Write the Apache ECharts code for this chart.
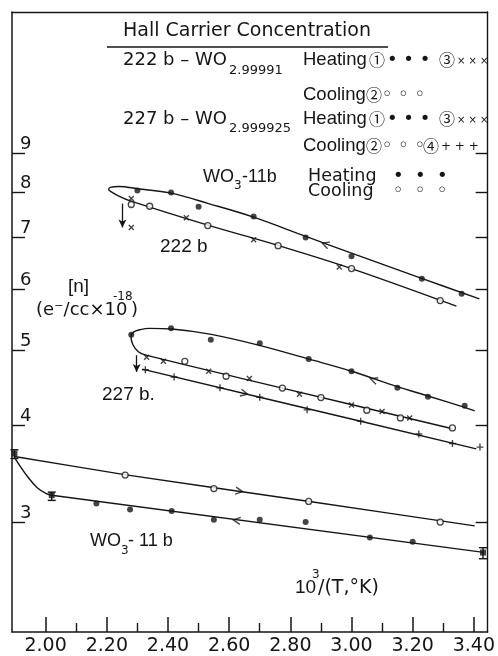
<!DOCTYPE html>
<html><head><meta charset="utf-8">
<script src="https://cdn.jsdelivr.net/npm/echarts@6/dist/echarts.min.js"></script>
<style>html,body{margin:0;padding:0;background:#fff}#c{width:498px;height:656px}</style>
</head><body><div id="c"></div>
<script>
// ---- tick labels ----
const xMajorTicks = [2.0, 2.2, 2.4, 2.6, 2.8, 3.0, 3.2, 3.4];
const xMinorTicks = [2.1, 2.3, 2.5, 2.7, 2.9, 3.1, 3.3];
const yTicks = [3, 4, 5, 6, 7, 8, 9];

// ---- 222b  (WO2.99991) ----
const s222Heat1 = [[2.30,8.05],[2.41,8.00],[2.50,7.67],[2.68,7.45],[2.85,7.00],[3.00,6.62],[3.23,6.19],[3.36,5.92]];
const s222Cool2 = [[2.28,7.72],[2.34,7.68],[2.53,7.25],[2.76,6.83],[3.00,6.38],[3.29,5.80]];
const s222Heat3 = [[2.28,7.86],[2.46,7.42],[2.68,6.95],[2.96,6.41],[2.28,7.21]];
const curve222 = [[3.343,5.705],[3.000,6.38],[2.762,6.83],[2.533,7.255],[2.274,7.81],
  [2.241,7.91],[2.216,8.01],[2.206,8.07],[2.212,8.125],[2.241,8.145],[2.300,8.09],
  [2.407,7.99],[2.533,7.74],[2.682,7.43],[2.851,7.02],[3.000,6.68],[3.227,6.20],[3.418,5.83]];

// ---- 227b  (WO2.999925) ----
const s227Heat1 = [[2.28,5.24],[2.41,5.34],[2.54,5.16],[2.70,5.11],[2.86,4.875],[3.00,4.70],[3.15,4.475],[3.25,4.355],[3.37,4.24]];
const s227Heat3 = [[2.33,4.90],[2.385,4.84],[2.533,4.70],[2.666,4.60],[2.83,4.39],[3.00,4.25],[3.10,4.17],[3.19,4.09]];
const s227Cool2 = [[2.455,4.84],[2.59,4.63],[2.774,4.47],[2.90,4.345],[3.05,4.185],[3.16,4.09],[3.33,3.97]];
const s227Cool4 = [[2.326,4.72],[2.42,4.62],[2.57,4.475],[2.70,4.35],[2.855,4.19],[3.03,4.05],[3.22,3.90],[3.33,3.79],[3.42,3.75]];
const curve227 = [[3.330,3.96],[2.774,4.47],[2.328,4.93],
  [2.303,4.98],[2.285,5.09],[2.279,5.21],[2.287,5.28],[2.310,5.32],[2.339,5.34],[2.412,5.33],
  [2.542,5.245],[2.699,5.076],[2.859,4.875],[3.000,4.70],[3.150,4.49],[3.250,4.366],[3.370,4.22],[3.403,4.177]];
const line227Cool4 = [[2.316,4.73],[2.70,4.35],[3.03,4.05],[3.408,3.73]];

// ---- WO3-11b ----
const wo3Heat = [[2.166,3.17],[2.276,3.115],[2.412,3.10],[2.55,3.02],[2.70,3.02],[2.85,3.00],[3.06,2.866],[3.20,2.83]];
const wo3Cool = [[2.26,3.45],[2.55,3.315],[2.86,3.19],[3.29,3.00]];
const wo3ErrPts = [[1.898,3.68,3.625,3.72],[2.02,3.25,3.20,3.28],[3.43,2.74,2.69,2.78]];
const lineWO3Cool = [[1.898,3.647],[2.263,3.453],[2.863,3.19],[3.403,2.966]];
const lineWO3HeatBend = [[1.898,3.636],[1.917,3.54],[1.940,3.438],[1.9725,3.323],[2.002,3.265],[2.020,3.25]];
const lineWO3HeatStraight = [[2.020,3.25],[3.432,2.741]];

// ---- direction arrows on lines ----
const arrowsOn = [
  {at:[2.915,6.86], dir:'L', curve:'c222'},
  {at:[3.073,4.58], dir:'L', curve:'c227'},
  {at:[2.649,4.40], dir:'R', curve:'l227'},
  {at:[2.6325,3.29], dir:'R', curve:'wc'},
  {at:[2.625,3.015], dir:'L', curve:'wh'}
];
const dropArrows = [ [[2.251,7.74],[2.251,7.21]], [[2.2975,4.93],[2.2975,4.69]] ];

const curves = {c222: curve222, c227: curve227, l227: line227Cool4, wc: lineWO3Cool, wh: lineWO3HeatStraight};

const ink = '#151515';
const FONT = "'DejaVu Sans', 'Noto Sans CJK JP', sans-serif";
const NARROW = "'Liberation Sans', 'DejaVu Sans', sans-serif";
const CIRC = "'Noto Sans CJK JP', 'DejaVu Sans', sans-serif";
const chart = echarts.init(document.getElementById('c'));

const CROSS = 'path://M0,0L10,10M10,0L0,10';
const PLUS = 'path://M5,0L5,10M0,5L10,5';
const LEFT = 'path://M10,0L0,5L10,10';
const RIGHT = 'path://M0,0L10,5L0,10';

function lineS(data, smooth) {
  return {type:'line', data, symbol:'none', smooth: smooth || false, silent:true,
    lineStyle:{color:ink, width:1.4}, z:2, animation:false};
}
function dots(data, size) {
  return {type:'scatter', data, symbol:'circle', symbolSize:size||6, itemStyle:{color:ink}, z:4, animation:false};
}
function rings(data) {
  return {type:'scatter', data, symbol:'circle', symbolSize:6, itemStyle:{color:'#fff', borderColor:ink, borderWidth:1.3}, z:4, animation:false};
}
function strokeSym(data, sym, size) {
  return {type:'scatter', data, symbol:sym, symbolSize:size, itemStyle:{color:'transparent', borderColor:ink, borderWidth:1.4}, z:4, animation:false};
}

function txt(x, y, text, size, family) {
  return {type:'text', x, y, silent:true, z:10,
    style:{text, fontSize:size||18, fontFamily:family||FONT, fill:ink, align:'left', verticalAlign:'middle'}};
}

const graphics = [
  txt(123, 31, 'Hall Carrier Concentration', 19),
  {type:'line', shape:{x1:107,y1:47,x2:388,y2:47}, style:{stroke:ink, lineWidth:1.3}, silent:true},
  // 222b row
  txt(123, 60, '222 b \u2013 WO', 18), txt(229, 71, '2.99991', 13),
  txt(303, 60, 'Heating', 18.5, NARROW), txt(369, 60, '\u2460', 16, CIRC), txt(387, 60, '\u2022 \u2022 \u2022', 18),
  txt(439, 60, '\u2462', 16, CIRC), txt(457, 61, '\u00d7 \u00d7 \u00d7', 10),
  txt(303, 95, 'Cooling', 18.5, NARROW), txt(366, 95, '\u2461', 16, CIRC), txt(382, 95, '\u25e6 \u25e6 \u25e6', 18),
  // 227b row
  txt(123, 119, '227 b \u2013 WO', 18), txt(229, 129, '2.999925', 13),
  txt(303, 119, 'Heating', 18.5, NARROW), txt(369, 119, '\u2460', 16, CIRC), txt(387, 119, '\u2022 \u2022 \u2022', 18),
  txt(439, 119, '\u2462', 16, CIRC), txt(457, 120, '\u00d7 \u00d7 \u00d7', 10),
  txt(303, 146, 'Cooling', 18.5, NARROW), txt(366, 146, '\u2461', 16, CIRC), txt(382, 146, '\u25e6 \u25e6 \u25e6', 18),
  txt(423, 146, '\u2463', 16, CIRC), txt(441, 147, '+ + +', 12),
  // WO3-11b row
  txt(203, 177, 'WO', 18, NARROW), txt(234, 186, '3', 12), txt(242, 177, '-11b', 18, NARROW),
  txt(308, 176, 'Heating', 17.5), txt(393, 176, '\u2022  \u2022  \u2022', 18),
  txt(308, 191, 'Cooling', 17.5), txt(393, 191, '\u25e6  \u25e6  \u25e6', 18),
  // in-plot labels
  txt(160, 247, '222 b', 19, NARROW),
  txt(68, 287, '[n]', 19, NARROW),
  txt(36, 310, '(e\u207b/cc\u00d710', 18), txt(113, 297, '-18', 12), txt(131, 310, ')', 18),
  txt(102, 395, '227 b.', 19, NARROW),
  txt(90, 541, 'WO', 18, NARROW), txt(121, 551, '3', 12), txt(128, 541, '- 11 b', 18, NARROW),
  txt(295, 588, '10', 19, NARROW), txt(312, 575, '3', 12), txt(318, 588, '/(T,\u00b0K)', 19)
];

const axisTxt = {color:ink, fontFamily:FONT};

function buildOption(arrowData) {
  return {
    animation:false,
    backgroundColor:'#fff',
    grid:{left:12, right:7, top:12, bottom:19, containLabel:false},
    xAxis:[
      {type:'value', min:1.89, max:3.445, position:'bottom',
        axisLine:{show:true, lineStyle:{color:ink, width:1.5}},
        axisTick:{show:true, inside:true, length:15, customValues:xMajorTicks, lineStyle:{color:ink, width:1.5}},
        axisLabel:Object.assign({show:true, customValues:xMajorTicks, fontSize:19, margin:5, formatter:v=>Number(v).toFixed(2)}, axisTxt),
        splitLine:{show:false}},
      {type:'value', min:1.89, max:3.445, position:'bottom',
        axisLine:{show:false},
        axisTick:{show:true, inside:true, length:9, customValues:xMinorTicks, lineStyle:{color:ink, width:1.4}},
        axisLabel:{show:false}, splitLine:{show:false}},
      {type:'value', min:1.89, max:3.445, position:'top',
        axisLine:{show:true, lineStyle:{color:ink, width:1.4}},
        axisTick:{show:false}, axisLabel:{show:false}, splitLine:{show:false}}
    ],
    yAxis:[
      {type:'log', logBase:10, min:2.163, max:13.69, position:'left',
        axisLine:{show:true, lineStyle:{color:ink, width:1.5}},
        axisTick:{show:true, inside:true, length:13, customValues:yTicks, lineStyle:{color:ink, width:1.4}},
        axisLabel:Object.assign({show:true, inside:true, customValues:yTicks, fontSize:18, margin:8, verticalAlign:'bottom', formatter:v=>String(Math.round(v))}, axisTxt),
        splitLine:{show:false}},
      {type:'log', logBase:10, min:2.163, max:13.69, position:'right',
        axisLine:{show:true, lineStyle:{color:ink, width:1.4}},
        axisTick:{show:true, inside:true, length:12, customValues:yTicks, lineStyle:{color:ink, width:1.4}},
        axisLabel:{show:false}, splitLine:{show:false}}
    ],
    graphic:{elements:graphics},
    series:[
      Object.assign(lineS(curve222, 0.35), {markLine:{silent:true, symbol:['none','arrow'], symbolSize:[6,8], animation:false,
        label:{show:false}, lineStyle:{color:ink, width:1.3, type:'solid'},
        data: dropArrows.map(a => [{coord:a[0]}, {coord:a[1]}])}}),
      lineS(curve227, 0.35),
      lineS(line227Cool4),
      lineS(lineWO3Cool, 0.2),
      lineS(lineWO3HeatBend, 0.4),
      lineS(lineWO3HeatStraight),
      dots(s222Heat1), rings(s222Cool2), strokeSym(s222Heat3, CROSS, 5),
      dots(s227Heat1), strokeSym(s227Heat3, CROSS, 5), rings(s227Cool2), strokeSym(s227Cool4, PLUS, 7),
      dots(wo3Heat), rings(wo3Cool),
      {type:'scatter', data:wo3ErrPts.map(p=>[p[0],p[1]]), symbol:'rect', symbolSize:6, itemStyle:{color:ink}, z:5},
      {type:'custom', data:wo3ErrPts, encode:{x:0, y:1}, z:5, silent:true,
        renderItem:function(params, api){
          const x = api.value(0);
          const lo = api.coord([x, api.value(2)]);
          const hi = api.coord([x, api.value(3)]);
          const w = 4, st = {stroke:ink, lineWidth:1.4};
          return {type:'group', children:[
            {type:'line', shape:{x1:lo[0], y1:lo[1], x2:hi[0], y2:hi[1]}, style:st},
            {type:'line', shape:{x1:lo[0]-w, y1:lo[1], x2:lo[0]+w, y2:lo[1]}, style:st},
            {type:'line', shape:{x1:hi[0]-w, y1:hi[1], x2:hi[0]+w, y2:hi[1]}, style:st}
          ]};
        }},
      {type:'scatter', data:arrowData, symbolSize:7, itemStyle:{color:'transparent', borderColor:ink, borderWidth:1.4}, z:6}
    ]
  };
}

chart.setOption(buildOption([]));

function px(v){ return chart.convertToPixel({xAxisIndex:0, yAxisIndex:0}, v); }
const arrowData = arrowsOn.map(a => {
  const c = curves[a.curve];
  const p = px(a.at);
  let best = null, bd = Infinity;
  for (let i = 0; i < c.length - 1; i++) {
    const p1 = px(c[i]), p2 = px(c[i+1]);
    const dx = p2[0]-p1[0], dy = p2[1]-p1[1];
    const t = Math.max(0, Math.min(1, ((p[0]-p1[0])*dx + (p[1]-p1[1])*dy) / (dx*dx+dy*dy)));
    const qx = p1[0]+t*dx, qy = p1[1]+t*dy;
    const d = Math.hypot(p[0]-qx, p[1]-qy);
    if (d < bd) { bd = d; best = dx >= 0 ? [dx, dy] : [-dx, -dy]; }
  }
  const ang = Math.atan2(-best[1], best[0]) * 180 / Math.PI;
  return {value:a.at, symbol: a.dir === 'L' ? LEFT : RIGHT, symbolRotate: ang};
});
chart.setOption(buildOption(arrowData));
</script></body></html>
